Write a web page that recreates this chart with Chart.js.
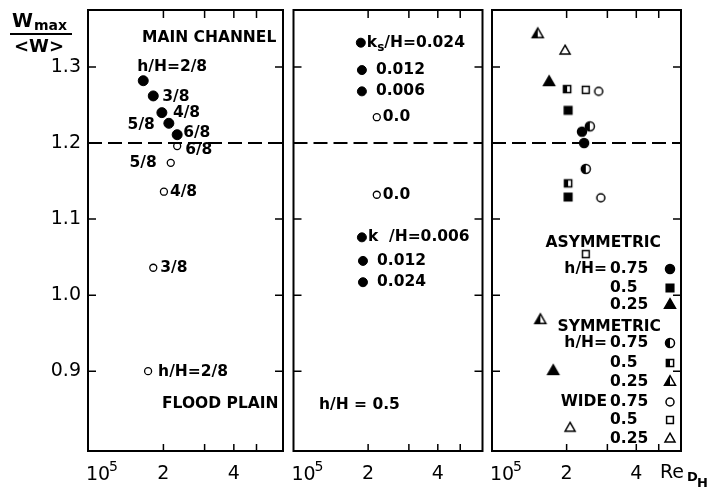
<!DOCTYPE html>
<html>
<head>
<meta charset="utf-8">
<script src="https://cdn.jsdelivr.net/npm/chart.js@4.4.0/dist/chart.umd.min.js"></script>
<style>
    body { margin: 0; background: #fff; }
    #wrap { position: relative; width: 712px; height: 493px; background: #fff; }
    #wrap canvas { position: absolute; top: 0; }
</style>
</head>
<body>
<div id="wrap">
    <canvas id="panel1" width="290" height="493" style="left:0px"></canvas>
    <canvas id="panel2" width="200" height="493" style="left:288px"></canvas>
    <canvas id="panel3" width="226" height="493" style="left:486px"></canvas>
</div>
<script>
// Axes
const yTicks = [0.9, 1.0, 1.1, 1.2, 1.3];
const xTicks = [1e5, 2e5, 3e5, 4e5, 5e5];
const xTickLabels = ['', '2', '', '4', ''];
const xMinorTicks = [2e5, 3e5, 4e5, 5e5];
const referenceW = 1.2;

// Panel 1 - main channel (filled) and flood plain (open)
const mainRe = [1.64e5, 1.81e5, 1.97e5, 2.11e5, 2.29e5];
const mainW = [1.282, 1.262, 1.240, 1.226, 1.211];
const mainLabels = ['h/H=2/8', '3/8', '4/8', '5/8', '6/8'];
const floodRe = [2.29e5, 2.15e5, 2.01e5, 1.81e5, 1.72e5];
const floodW = [1.196, 1.174, 1.136, 1.036, 0.900];
const floodLabels = ['6/8', '5/8', '4/8', '3/8', 'h/H=2/8'];

// Panel 2 - roughness, h/H = 0.5
const roughMainRe = [1.86e5, 1.88e5, 1.88e5];
const roughMainW = [1.332, 1.296, 1.268];
const roughMainLabels = ['0.024', '0.012', '0.006'];
const smoothRe = [2.18e5, 2.18e5];
const smoothW = [1.234, 1.132];
const smoothLabels = ['0.0', '0.0'];
const roughFloodRe = [1.88e5, 1.90e5, 1.90e5];
const roughFloodW = [1.076, 1.045, 1.017];
const roughFloodLabels = ['0.006', '0.012', '0.024'];

// Panel 3 - channel types
const asymRe75 = [2.33e5, 2.38e5];
const asymW75 = [1.215, 1.200];
const asymRe50 = [2.03e5, 2.03e5];
const asymW50 = [1.243, 1.129];
const asymRe25 = [1.68e5, 1.75e5];
const asymW25 = [1.280, 0.900];
const symRe75 = [2.52e5, 2.42e5];
const symW75 = [1.222, 1.166];
const symRe50 = [2.01e5, 2.03e5];
const symW50 = [1.271, 1.147];
const symRe25 = [1.50e5, 1.54e5];
const symW25 = [1.343, 0.967];
const wideRe75 = [2.75e5, 2.81e5];
const wideW75 = [1.268, 1.128];
const wideRe50 = [2.42e5, 2.42e5];
const wideW50 = [1.270, 1.054];
const wideRe25 = [1.97e5, 2.07e5];
const wideW25 = [1.321, 0.825];

const FONT = '"DejaVu Sans", sans-serif';
const noteFont = 'bold 15.5px ' + FONT;
const xMin = 0.952e5;

function toPoints(xs, ys) {
    return xs.map((x, i) => ({ x: x, y: ys[i] }));
}

// marcadores desenhados num canvas pequeno (cheio, meio cheio, vazio)
function makeMarker(shape, fill, size) {
    const c = document.createElement('canvas');
    c.width = 18; c.height = 18;
    const g = c.getContext('2d');
    const m = 9;
    g.lineWidth = 1.5;
    g.strokeStyle = '#000';
    const path = () => {
        g.beginPath();
        if (shape === 'circle') {
            g.arc(m, m, size, 0, Math.PI * 2);
        } else if (shape === 'square') {
            g.rect(m - size, m - size, size * 2, size * 2);
        } else {
            const h = size * 1.732;
            g.moveTo(m, m - h * 2 / 3);
            g.lineTo(m + size, m + h / 3);
            g.lineTo(m - size, m + h / 3);
            g.closePath();
        }
    };
    path();
    g.fillStyle = fill === 'full' ? '#000' : '#fff';
    g.fill();
    if (fill === 'half') {
        g.save();
        g.clip();
        g.fillStyle = '#000';
        g.fillRect(0, 0, m, 18);
        g.restore();
        path();
    }
    g.stroke();
    return c;
}

const markers = {
    asym75: makeMarker('circle', 'full', 4.5),
    asym50: makeMarker('square', 'full', 3.8),
    asym25: makeMarker('triangle', 'full', 5.5),
    sym75: makeMarker('circle', 'half', 4.5),
    sym50: makeMarker('square', 'half', 3.6),
    sym25: makeMarker('triangle', 'half', 5.5),
    wide75: makeMarker('circle', 'open', 4),
    wide50: makeMarker('square', 'open', 3.4),
    wide25: makeMarker('triangle', 'open', 5)
};

// moldura com ticks para dentro
const framePlugin = {
    id: 'frame',
    beforeDatasetsDraw(chart) {
        const ctx = chart.ctx;
        const a = chart.chartArea;
        const sx = chart.scales.x, sy = chart.scales.y;
        ctx.save();
        ctx.strokeStyle = '#000';
        ctx.lineWidth = 2;
        ctx.strokeRect(a.left, a.top, a.right - a.left, a.bottom - a.top);
        ctx.lineWidth = 1.5;
        ctx.beginPath();
        yTicks.forEach(v => {
            const y = sy.getPixelForValue(v);
            ctx.moveTo(a.left, y); ctx.lineTo(a.left + 8, y);
            ctx.moveTo(a.right, y); ctx.lineTo(a.right - 8, y);
        });
        xMinorTicks.forEach(v => {
            const x = sx.getPixelForValue(v);
            ctx.moveTo(x, a.bottom); ctx.lineTo(x, a.bottom - 7);
            ctx.moveTo(x, a.top); ctx.lineTo(x, a.top + 8);
        });
        ctx.stroke();
        // rotulo 10^5 com expoente
        const x0 = sx.getPixelForValue(xTicks[0]);
        ctx.fillStyle = '#000';
        ctx.textAlign = 'left';
        ctx.textBaseline = 'middle';
        ctx.font = '19px ' + FONT;
        ctx.fillText('10', x0 - 7, a.bottom + 24);
        ctx.font = '14px ' + FONT;
        ctx.fillText('5', x0 + 16, a.bottom + 16);
        ctx.restore();
    }
};

function text(ctx, str, x, y, align, font) {
    ctx.font = font || noteFont;
    ctx.textAlign = align || 'left';
    ctx.textBaseline = 'middle';
    ctx.fillStyle = '#000';
    ctx.fillText(str, x, y);
}

function pointLabels(chart, dsIndex, labels, offsets) {
    const pts = chart.getDatasetMeta(dsIndex).data;
    labels.forEach((lbl, i) => {
        const o = offsets[i];
        text(chart.ctx, lbl, pts[i].x + o[0], pts[i].y + o[1], o[2]);
    });
}

function refLine(xMax) {
    return {
        data: [{ x: xMin, y: referenceW }, { x: xMax, y: referenceW }],
        showLine: true,
        borderColor: '#000',
        borderWidth: 2,
        borderDash: [14, 6],
        pointRadius: 0
    };
}

function panelOptions(cfg) {
    return {
        responsive: false,
        animation: false,
        events: [],
        layout: { padding: { top: 10, left: cfg.padLeft, right: cfg.padRight, bottom: 0 } },
        plugins: { legend: { display: false }, tooltip: { enabled: false } },
        scales: {
            x: {
                type: 'logarithmic',
                min: xMin,
                max: cfg.xMax,
                grid: { display: false, drawTicks: false },
                border: { display: false },
                afterBuildTicks: s => { s.ticks = xTicks.map(v => ({ value: v })); },
                afterFit: s => { s.height = 42; s.paddingLeft = 0; s.paddingRight = 0; },
                ticks: {
                    callback: (v, i) => xTickLabels[i],
                    font: { family: FONT, size: 19 },
                    color: '#000',
                    padding: 12,
                    maxRotation: 0,
                    autoSkip: false
                }
            },
            y: {
                type: 'linear',
                min: 0.795,
                max: 1.375,
                display: cfg.showY,
                grid: { display: false, drawTicks: false },
                border: { display: false },
                afterBuildTicks: s => { s.ticks = yTicks.map(v => ({ value: v })); },
                afterFit: s => { s.width = cfg.showY ? 88 : 0; s.paddingTop = 0; s.paddingBottom = 0; },
                ticks: {
                    callback: v => v.toFixed(1),
                    font: { family: FONT, size: 19 },
                    color: '#000',
                    padding: 7
                }
            }
        }
    };
}

// Painel 1
new Chart(document.getElementById('panel1'), {
    type: 'scatter',
    data: {
        datasets: [
            refLine(6.49e5),
            { data: toPoints(mainRe, mainW), pointRadius: 5, backgroundColor: '#000', borderColor: '#000', borderWidth: 1 },
            { data: toPoints(floodRe, floodW), pointRadius: 3.5, backgroundColor: '#fff', borderColor: '#000', borderWidth: 1.3 }
        ]
    },
    options: panelOptions({ padLeft: 0, padRight: 7, xMax: 6.49e5, showY: true }),
    plugins: [framePlugin, {
        id: 'notes1',
        afterDraw(chart) {
            const ctx = chart.ctx;
            pointLabels(chart, 1, mainLabels, [[-6, -14, 'left'], [9, 1, 'left'], [11, 0, 'left'], [-14, 2, 'right'], [6, -2, 'left']]);
            pointLabels(chart, 2, floodLabels, [[8, 4, 'left'], [-14, 0, 'right'], [6, 0, 'left'], [7, 0, 'left'], [10, 1, 'left']]);
            text(ctx, 'MAIN CHANNEL', 142, 38);
            text(ctx, 'FLOOD PLAIN', 162, 404);
            // titulo do eixo y
            text(ctx, 'W', 12, 22, 'left', 'bold 19px ' + FONT);
            text(ctx, 'max', 34, 26, 'left', 'bold 14px ' + FONT);
            ctx.save();
            ctx.lineWidth = 2;
            ctx.beginPath();
            ctx.moveTo(10, 34); ctx.lineTo(72, 34);
            ctx.stroke();
            ctx.restore();
            text(ctx, '<W>', 39, 47, 'center', 'bold 18px ' + FONT);
        }
    }]
});

// Painel 2
new Chart(document.getElementById('panel2'), {
    type: 'scatter',
    data: {
        datasets: [
            refLine(6.24e5),
            { data: toPoints(roughMainRe, roughMainW), pointRadius: 4.5, backgroundColor: '#000', borderColor: '#000', borderWidth: 1 },
            { data: toPoints(smoothRe, smoothW), pointRadius: 3.5, backgroundColor: '#fff', borderColor: '#000', borderWidth: 1.3 },
            { data: toPoints(roughFloodRe, roughFloodW), pointRadius: 4.5, backgroundColor: '#000', borderColor: '#000', borderWidth: 1 }
        ]
    },
    options: panelOptions({ padLeft: 4, padRight: 5, xMax: 6.24e5, showY: false }),
    plugins: [framePlugin, {
        id: 'notes2',
        afterDraw(chart) {
            const ctx = chart.ctx;
            const top = chart.getDatasetMeta(1).data;
            const low = chart.getDatasetMeta(3).data;
            // k_s/H= com indice
            text(ctx, 'k', top[0].x + 6, top[0].y);
            const kw = ctx.measureText('k').width;
            text(ctx, 's', top[0].x + 6 + kw, top[0].y + 5, 'left', 'bold 12px ' + FONT);
            const sw = ctx.measureText('s').width;
            text(ctx, '/H=0.024', top[0].x + 6 + kw + sw, top[0].y);
            pointLabels(chart, 1, ['', roughMainLabels[1], roughMainLabels[2]], [[14, 0, 'left'], [14, 0, 'left'], [14, 0, 'left']]);
            pointLabels(chart, 2, smoothLabels, [[6, 0, 'left'], [6, 0, 'left']]);
            text(ctx, 'k  /H=' + roughFloodLabels[0], low[0].x + 6, low[0].y);
            pointLabels(chart, 3, ['', roughFloodLabels[1], roughFloodLabels[2]], [[14, 0, 'left'], [14, 0, 'left'], [14, 0, 'left']]);
            text(ctx, 'h/H = 0.5', 31, 405);
        }
    }]
});

// Painel 3
const p3series = [
    [asymRe75, asymW75, markers.asym75], [asymRe50, asymW50, markers.asym50], [asymRe25, asymW25, markers.asym25],
    [symRe75, symW75, markers.sym75], [symRe50, symW50, markers.sym50], [symRe25, symW25, markers.sym25],
    [wideRe75, wideW75, markers.wide75], [wideRe50, wideW50, markers.wide50], [wideRe25, wideW25, markers.wide25]
];

new Chart(document.getElementById('panel3'), {
    type: 'scatter',
    data: {
        datasets: [refLine(6.24e5)].concat(p3series.map(s => ({
            data: toPoints(s[0], s[1]),
            pointStyle: s[2],
            pointRadius: 5
        })))
    },
    options: panelOptions({ padLeft: 4, padRight: 31, xMax: 6.24e5, showY: false }),
    plugins: [framePlugin, {
        id: 'notes3',
        afterDraw(chart) {
            const ctx = chart.ctx;
            const mx = 184;
            const rows = [
                ['ASYMMETRIC', 243],
                ['h/H=', 269, '0.75', markers.asym75], ['', 288, '0.5', markers.asym50], ['', 305, '0.25', markers.asym25],
                ['SYMMETRIC', 327],
                ['h/H=', 343, '0.75', markers.sym75], ['', 363, '0.5', markers.sym50], ['', 382, '0.25', markers.sym25],
                ['WIDE', 402, '0.75', markers.wide75], ['', 420, '0.5', markers.wide50], ['', 439, '0.25', markers.wide25]
            ];
            rows.forEach(r => {
                if (r.length === 2) {
                    text(ctx, r[0], 175, r[1], 'right');
                    return;
                }
                if (r[0]) text(ctx, r[0], 121, r[1], 'right');
                text(ctx, r[2], 124, r[1], 'left');
                ctx.drawImage(r[3], mx - 9, r[1] - 9);
            });
            // Re_DH
            text(ctx, 'Re', 174, 473, 'left', '19px ' + FONT);
            text(ctx, 'D', 201, 478, 'left', 'bold 13px ' + FONT);
            text(ctx, 'H', 211, 484, 'left', 'bold 13px ' + FONT);
        }
    }]
});
</script>
</body>
</html>
